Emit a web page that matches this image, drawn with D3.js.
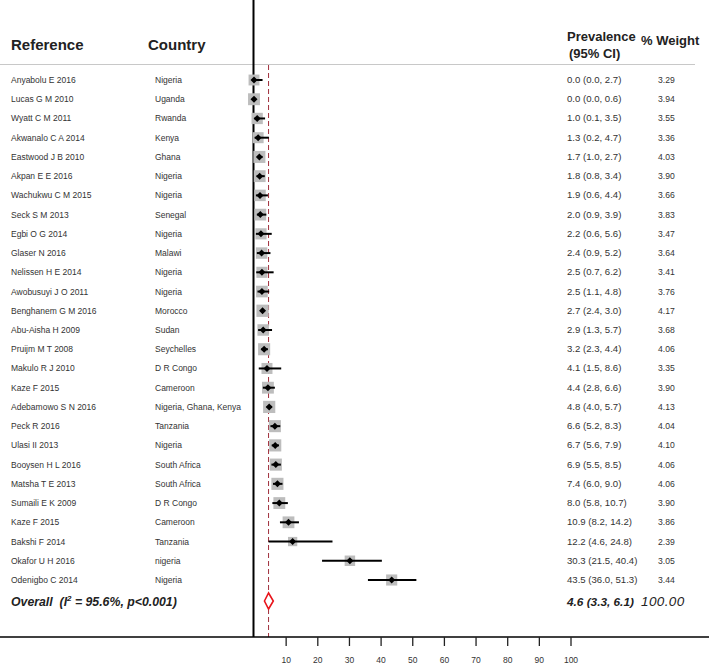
<!DOCTYPE html>
<html><head><meta charset="utf-8">
<script src="https://cdn.jsdelivr.net/npm/d3@7"></script>
<style>body{margin:0;background:#fff}svg{display:block;font-family:"Liberation Sans",Arial,sans-serif}</style>
</head><body><div id="chart"></div>
<script>
const references = ["Anyabolu E 2016","Lucas G M 2010","Wyatt C M 2011","Akwanalo  C A 2014","Eastwood J B 2010","Akpan E E 2016","Wachukwu C M  2015","Seck S M  2013","Egbi O G 2014","Glaser N 2016","Nelissen H E 2014","Awobusuyi J O 2011","Benghanem  G M 2016","Abu-Aisha H 2009","Pruijm M T 2008","Makulo  R J 2010","Kaze  F 2015","Adebamowo  S N 2016","Peck R 2016","Ulasi II 2013","Booysen H L 2016","Matsha T E 2013","Sumaili E K 2009","Kaze  F 2015","Bakshi F 2014","Okafor U H 2016","Odenigbo  C 2014"];
const countries = ["Nigeria","Uganda","Rwanda","Kenya","Ghana","Nigeria","Nigeria","Senegal","Nigeria","Malawi","Nigeria","Nigeria","Morocco","Sudan","Seychelles","D R Congo","Cameroon","Nigeria, Ghana, Kenya","Tanzania","Nigeria","South Africa","South Africa","D R Congo","Cameroon","Tanzania","nigeria","Nigeria"];
const estimates = [0.0,0.0,1.0,1.3,1.7,1.8,1.9,2.0,2.2,2.4,2.5,2.5,2.7,2.9,3.2,4.1,4.4,4.8,6.6,6.7,6.9,7.4,8.0,10.9,12.2,30.3,43.5];
const lowers = [0.0,0.0,0.1,0.2,1.0,0.8,0.6,0.9,0.6,0.9,0.7,1.1,2.4,1.3,2.3,1.5,2.8,4.0,5.2,5.6,5.5,6.0,5.8,8.2,4.6,21.5,36.0];
const uppers = [2.7,0.6,3.5,4.7,2.7,3.4,4.4,3.9,5.6,5.2,6.2,4.8,3.0,5.7,4.4,8.6,6.6,5.7,8.3,7.9,8.5,9.0,10.7,14.2,24.8,40.4,51.3];
const weights = [3.29,3.94,3.55,3.36,4.03,3.90,3.66,3.83,3.47,3.64,3.41,3.76,4.17,3.68,4.06,3.35,3.90,4.13,4.04,4.10,4.06,4.06,3.90,3.86,2.39,3.05,3.44];
const overall = {est: 4.6, lo: 3.3, hi: 6.1, label: "Overall", het: "95.6%", p: "p<0.001", weight: "100.00"};
const tickValues = [10,20,30,40,50,60,70,80,90,100];

const W = 709, H = 664;
const svg = d3.select("#chart").append("svg").attr("width", W).attr("height", H);

const x = d3.scaleLinear().domain([0, 100]).range([254, 570.5]);
const y = d3.scaleLinear().domain([0, references.length - 1]).range([80, 580]);
const yOverall = 601;
const axisY = 637;
const fmt = d3.format(".1f");

// header
svg.append("text").attr("x", 11).attr("y", 50).attr("font-size", 15).attr("font-weight", "bold").attr("fill", "#222").text("Reference");
svg.append("text").attr("x", 148).attr("y", 50).attr("font-size", 15).attr("font-weight", "bold").attr("fill", "#222").text("Country");
svg.append("text").attr("x", 567).attr("y", 41).attr("font-size", 13).attr("font-weight", "bold").attr("fill", "#222").text("Prevalence");
svg.append("text").attr("x", 569).attr("y", 58).attr("font-size", 13).attr("font-weight", "bold").attr("fill", "#222").text("(95% CI)");
svg.append("text").attr("x", 641).attr("y", 45).attr("font-size", 13).attr("font-weight", "bold").attr("fill", "#222").text("% Weight");
svg.append("line").attr("x1", 0).attr("x2", 695).attr("y1", 64.5).attr("y2", 64.5).attr("stroke", "#c8c8c8").attr("stroke-width", 1.2);

// zero line
svg.append("line").attr("x1", x(0) - 0.5).attr("x2", x(0) - 0.5).attr("y1", 0).attr("y2", axisY).attr("stroke", "#000").attr("stroke-width", 2);
// overall dashed line
svg.append("line").attr("x1", x(overall.est)).attr("x2", x(overall.est)).attr("y1", 65).attr("y2", axisY)
  .attr("stroke", "#a0303c").attr("stroke-width", 1).attr("stroke-dasharray", "5,3");

const idx = d3.range(references.length);
const rows = svg.append("g").selectAll("g").data(idx).join("g");
rows.append("text").attr("x", 11).attr("y", i => y(i) + 3).attr("font-size", 8.5).attr("fill", "#333").text(i => references[i]);
rows.append("text").attr("x", 155).attr("y", i => y(i) + 3).attr("font-size", 8.5).attr("fill", "#333").text(i => countries[i]);
rows.append("text").attr("x", 567).attr("y", i => y(i) + 3).attr("font-size", 9.6).attr("fill", "#333")
  .text(i => `${fmt(estimates[i])} (${fmt(lowers[i])}, ${fmt(uppers[i])})`);
rows.append("text").attr("x", 658).attr("y", i => y(i) + 3).attr("font-size", 8.6).attr("fill", "#333").text(i => weights[i].toFixed(2));

// squares
const side = w => 6 * Math.sqrt(w);
rows.append("rect")
  .attr("x", i => x(estimates[i]) - side(weights[i]) / 2)
  .attr("y", i => y(i) - side(weights[i]) / 2)
  .attr("width", i => side(weights[i]))
  .attr("height", i => side(weights[i]))
  .attr("fill", "#bdbdbd");
// CI lines
rows.append("line").attr("x1", i => x(lowers[i])).attr("x2", i => x(uppers[i]))
  .attr("y1", i => y(i)).attr("y2", i => y(i)).attr("stroke", "#000").attr("stroke-width", 2);
// point diamonds
rows.append("path")
  .attr("d", i => { const cx = x(estimates[i]), cy = y(i), r = 3.5; return `M${cx - r},${cy}L${cx},${cy - r}L${cx + r},${cy}L${cx},${cy + r}Z`; })
  .attr("fill", "#000");

// overall row
const ot = svg.append("text").attr("x", 11).attr("y", yOverall + 5).attr("font-size", 12.3).attr("font-weight", "bold").attr("font-style", "italic").attr("fill", "#222");
ot.append("tspan").text(overall.label + "\u00a0 (I");
ot.append("tspan").attr("font-size", 8).attr("dy", -5).text("2");
ot.append("tspan").attr("dy", 5).text(` = ${overall.het}, ${overall.p})`);
svg.append("text").attr("x", 567).attr("y", yOverall + 5).attr("font-size", 11.8).attr("font-weight", "bold").attr("font-style", "italic").attr("fill", "#222")
  .text(`${fmt(overall.est)} (${fmt(overall.lo)}, ${fmt(overall.hi)})`);
svg.append("text").attr("x", 641).attr("y", yOverall + 5).attr("font-size", 13.5).attr("font-style", "italic").attr("fill", "#222").attr("letter-spacing", 0.4).text(overall.weight);
svg.append("path")
  .attr("d", `M${x(overall.lo)},${yOverall}L${x(overall.est)},${yOverall - 8}L${x(overall.hi)},${yOverall}L${x(overall.est)},${yOverall + 8}Z`)
  .attr("fill", "#fff").attr("stroke", "#e8141b").attr("stroke-width", 1.6);

// axis
svg.append("line").attr("x1", 0).attr("x2", 709).attr("y1", axisY).attr("y2", axisY).attr("stroke", "#000").attr("stroke-width", 1.5);
const axis = svg.append("g").attr("transform", `translate(0,${axisY})`)
  .call(d3.axisBottom(x).tickValues(tickValues).tickSize(9).tickPadding(11).tickFormat(d3.format("d")));
axis.select(".domain").remove();
axis.selectAll(".tick line").attr("stroke", "#222").attr("stroke-width", 1.3);
axis.selectAll(".tick text").attr("font-size", 8.5).attr("fill", "#333").attr("font-family", "'Liberation Sans', Arial, sans-serif");
</script>
</body></html>
